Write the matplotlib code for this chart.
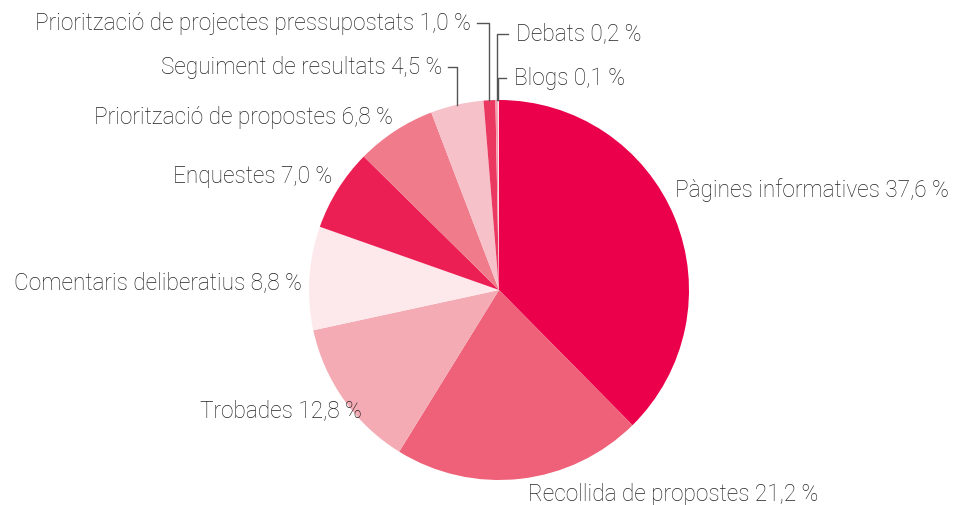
import numpy as np
import matplotlib
matplotlib.use("Agg")
import matplotlib.pyplot as plt

plt.rcParams['font.family'] = ['Roboto', 'DejaVu Sans']

# dades
categories = ["Pàgines informatives", "Recollida de propostes", "Trobades",
              "Comentaris deliberatius", "Enquestes", "Priorització de propostes",
              "Seguiment de resultats", "Priorització de projectes pressupostats",
              "Debats", "Blogs"]
values = [37.6, 21.2, 12.8, 8.8, 7.0, 6.8, 4.5, 1.0, 0.2, 0.1]
colors = ["#EA004B", "#EE6179", "#F4ABB4", "#FDE9EC", "#EC1F54",
          "#F07B8B", "#F6C1C8", "#EB3860", "#F4A0B0", "#FCE0E6"]

# posicions de les etiquetes (píxels, y des de dalt), alineació, línia guia
label_pos = [(675, 190, "left", False), (528, 495, "left", False),
             (362, 411, "right", False), (302, 283, "right", False),
             (332, 176, "right", False), (393, 117, "right", False),
             (442, 67, "right", True), (471, 23, "right", True),
             (516, 34, "left", True), (514, 78, "left", True)]

W, H = 954, 505
cx, cy, r = 499, H - 290, 190

fig = plt.figure(figsize=(9.54, 5.05), dpi=100)
ax = fig.add_axes([0, 0, 1, 1])

wedges, _ = ax.pie(values, colors=colors, startangle=90, counterclock=False,
                   center=(cx, cy), radius=r, frame=True,
                   wedgeprops=dict(linewidth=0))
ax.set_xlim(0, W)
ax.set_ylim(0, H)
ax.set_aspect("equal")
ax.axis("off")

for w, cat, val, (lx, ly, ha, leader) in zip(wedges, categories, values, label_pos):
    txt = f"{cat} {val:.1f} %".replace(".", ",")
    y = H - ly
    ax.text(lx, y, txt, ha=ha, va="center", fontsize=16.3,
            fontweight="light", color="#222222")
    if leader:
        ang = np.deg2rad((w.theta1 + w.theta2) / 2)
        ex = cx + r * np.cos(ang)
        ey = cy + r * np.sin(ang)
        hx = lx + 6 if ha == "right" else lx - 8
        ax.plot([hx, ex, ex], [y, y, ey], color="#555555", lw=1)

fig.savefig("out.png", dpi=100)
